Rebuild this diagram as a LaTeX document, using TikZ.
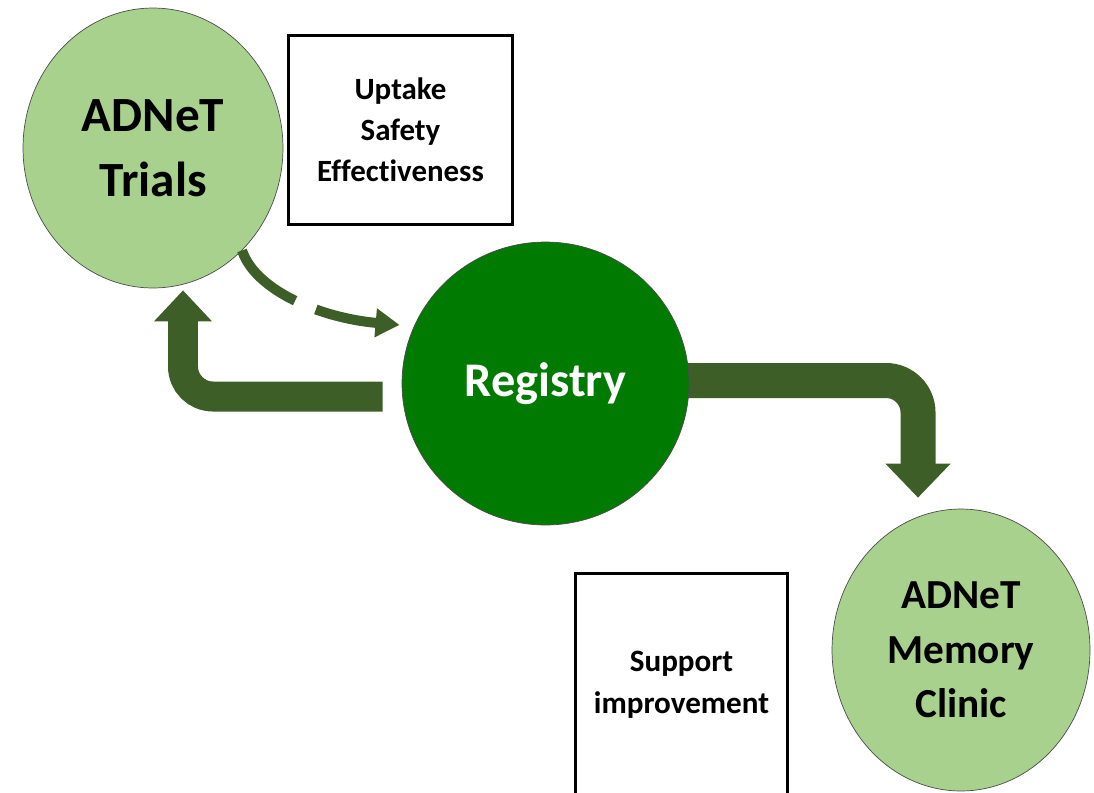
\documentclass[tikz,border=0pt]{standalone}
\usepackage{fontspec}
\setmainfont{Carlito}[Ligatures=NoCommon]
\usetikzlibrary{shapes.geometric, arrows.meta, backgrounds}

\definecolor{lightgrn}{RGB}{169,209,142}
\definecolor{darkgrn}{RGB}{0,122,0}
\definecolor{arrowgrn}{RGB}{62,94,40}

\tikzset{
	site/.style={ellipse, draw=black!70, line width=0.4pt, fill=lightgrn, inner sep=0pt, align=center},
	infobox/.style={rectangle, draw=black, line width=1.7pt, fill=white, inner sep=0pt, align=center},
	bigarrow/.style={draw=arrowgrn, line cap=butt},
}

\begin{document}
\begin{tikzpicture}[x=0.02cm, y=-0.02cm]

	\useasboundingbox (0,0) rectangle (1094,792);

	\node[site, minimum width=5.2cm, minimum height=5.6cm, font={\fontsize{28}{37}\selectfont\bfseries}] (trials) at (153,148) {ADNeT\\Trials};
	\node[site, fill=darkgrn, minimum width=5.74cm, minimum height=5.66cm, text=white, font={\fontsize{27.5}{33}\selectfont\bfseries}] (reg) at (545.5,383.5) {Registry};
	\node[site, minimum width=5.16cm, minimum height=5.64cm, font={\fontsize{23.5}{31}\selectfont\bfseries}] (clinic) at (961,650) {ADNeT\\Memory\\Clinic};

	\node[infobox, minimum width=4.5cm, minimum height=3.8cm, font={\fontsize{17.6}{23.2}\selectfont\bfseries}] (aims) at (400.5,130) {Uptake\\Safety\\Effectiveness};
	\node[infobox, minimum width=4.26cm, minimum height=4.48cm, font={\fontsize{17.7}{23.8}\selectfont\bfseries}] (support) at (681.5,685) {Support\\improvement};

	% trials feed the registry
	\draw[arrowgrn, line width=0.2cm, dash pattern=on 1.5cm off 0.45cm, -{Triangle[width=0.55cm,length=0.48cm]}]
		(trials.-49.5) .. controls (255,290) and (320,318) .. ([shift={(-0.22cm,0.19cm)}]reg.160);

	\begin{scope}[on background layer]
		\draw[bigarrow, line width=0.6cm, rounded corners=0.6cm, -{Triangle[width=1.12cm,length=0.62cm]}]
			([shift={(-0.38cm,-0.26cm)}]reg.west) -| ([shift={(0.6cm,-0.04cm)}]trials.south);
		\draw[bigarrow, line width=0.7cm, rounded corners=0.64cm, -{Triangle[width=1.26cm,length=0.68cm]}]
			([shift={(-0.4cm,0.06cm)}]reg.east) -| ([shift={(-0.86cm,0.22cm)}]clinic.north);
	\end{scope}

\end{tikzpicture}
\end{document}
